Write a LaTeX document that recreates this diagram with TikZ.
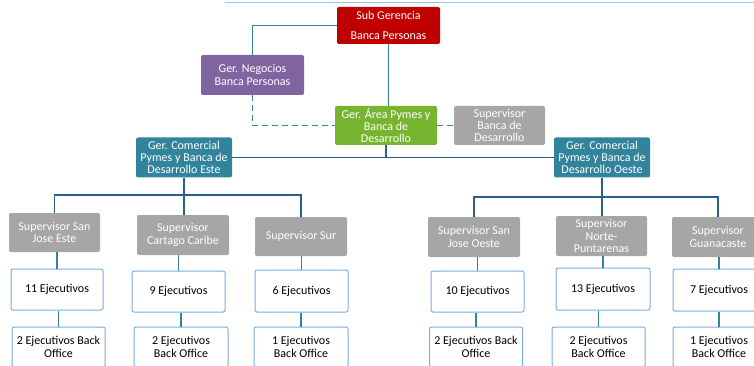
\documentclass[tikz,border=0pt]{standalone}
\usepackage{fontspec}
\setmainfont{Carlito}
\usepackage{tikz}
\definecolor{subred}{HTML}{C00000}
\definecolor{negpurple}{HTML}{8064A2}
\definecolor{areagreen}{HTML}{77B531}
\definecolor{supgray}{HTML}{A6A6A6}
\definecolor{gerteal}{HTML}{31849B}
\definecolor{boxblue}{HTML}{7AAEE0}
\definecolor{treeblue}{HTML}{2C5C8A}
\definecolor{rulecyan}{HTML}{9DC3E6}

\begin{document}
\begin{tikzpicture}[x=1pt,y=-1pt,
  every node/.style={font=\fontsize{12}{12.3}\selectfont, align=center, inner sep=1pt, rounded corners=2pt},
  unit/.style={fill=#1, text=white, minimum width=92pt, minimum height=40pt},
  ejec/.style={draw=boxblue, fill=white, line width=1pt, minimum width=93pt, minimum height=41pt},
  link/.style={draw=gerteal, line width=1.5pt},
  tree/.style={draw=treeblue, line width=1.6pt}]
  \useasboundingbox (0,0) rectangle (754,366);
  \draw[rulecyan, line width=1pt] (225,3) -- (754,3);

  \node[unit=subred, minimum width=103pt, minimum height=37pt, font=\fontsize{12}{20}\selectfont] (sub) at (388.5,25.5) {Sub Gerencia\\Banca Personas};
  \node[unit=negpurple, minimum width=103pt] (neg) at (252.5,75) {Ger. Negocios\\Banca Personas};
  \node[unit=areagreen, minimum width=102pt, minimum height=39pt] (area) at (386,125.5) {Ger. Área Pymes y\\Banca de\\Desarrollo};
  \node[unit=supgray, minimum width=91pt, minimum height=39pt] (supbd) at (499.5,125.5) {Supervisor\\Banca de\\Desarrollo};
  \node[unit=gerteal, minimum width=96pt] (este) at (184,157.5) {Ger. Comercial\\Pymes y Banca de\\Desarrollo Este};
  \node[unit=gerteal, minimum width=96pt] (oeste) at (602,157.5) {Ger. Comercial\\Pymes y Banca de\\Desarrollo Oeste};

  \node[unit=supgray, minimum width=91pt, minimum height=39pt] (sje) at (54.5,232.5) {Supervisor San\\Jose Este};
  \node[unit=supgray] (scc) at (183,235) {Supervisor\\Cartago Caribe};
  \node[unit=supgray, minimum height=39pt] (ssur) at (301,236.5) {Supervisor Sur};
  \node[unit=supgray] (sjo) at (474,237) {Supervisor San\\Jose Oeste};
  \node[unit=supgray, minimum width=91pt] (snp) at (601.5,236) {Supervisor\\Norte-\\Puntarenas};
  \node[unit=supgray] (sgu) at (718,237) {Supervisor\\Guanacaste};

  \node[ejec, minimum width=92pt] (e1) at (57,289.5) {11 Ejecutivos};
  \node[ejec] (e2) at (178.5,291.5) {9 Ejecutivos};
  \node[ejec, minimum height=42pt] (e3) at (301.5,291) {6 Ejecutivos};
  \node[ejec] (e4) at (477.5,291.5) {10 Ejecutivos};
  \node[ejec, minimum width=94pt, minimum height=42pt] (e5) at (603,289) {13 Ejecutivos};
  \node[ejec, minimum width=92pt, minimum height=42pt] (e6) at (719,290) {7 Ejecutivos};

  \node[ejec, minimum height=40pt] (b1) at (58.5,347) {2 Ejecutivos Back\\Office};
  \node[ejec, minimum width=94pt, minimum height=40pt] (b2) at (181,347) {2 Ejecutivos\\Back Office};
  \node[ejec, minimum width=94pt, minimum height=40pt] (b3) at (301,347) {1 Ejecutivos\\Back Office};
  \node[ejec, minimum height=40pt] (b4) at (476,347) {2 Ejecutivos Back\\Office};
  \node[ejec, minimum height=40pt] (b5) at (598.5,347) {2 Ejecutivos\\Back Office};
  \node[ejec, minimum width=92pt, minimum height=40pt] (b6) at (719,347) {1 Ejecutivos\\Back Office};

  \path[link] (sub.west) -| (neg.north);
  \path[link] (sub.south) -- (sub.south |- area.north);
  \path[link, dashed, dash pattern=on 6pt off 4pt] (neg.south) |- (area.west);
  \path[link, dashed, dash pattern=on 6pt off 4pt] (area.east) -- (supbd.west);
  \path[tree] (area.south) -- (area.south |- este.east);
  \path[tree] (este.east) -- (oeste.west);

  \path[tree] (este.south) -- (este.south |- scc.north);
  \path[tree] (sje.north) -- ++(0,-18) -| (ssur.north);
  \path[tree] (oeste.south) -- (oeste.south |- snp.north);
  \path[tree] (sjo.north) -- ++(0,-20) -| (sgu.north);

  \foreach \s/\e/\b in {sje/e1/b1, scc/e2/b2, ssur/e3/b3, sjo/e4/b4, snp/e5/b5, sgu/e6/b6}
  {
    \path[link] (\e.north) -- (\e.north |- \s.south);
    \path[link] (\b.north) -- (\b.north |- \e.south);
  }
\end{tikzpicture}
\end{document}
